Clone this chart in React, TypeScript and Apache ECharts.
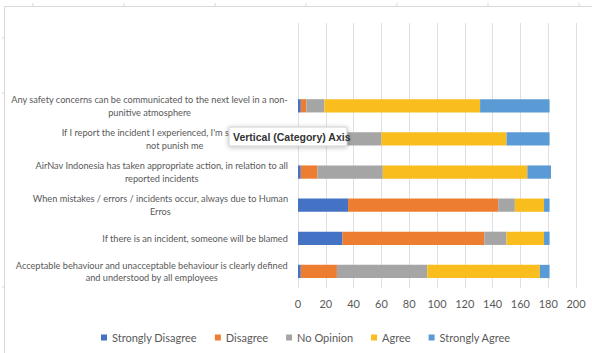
import React, { useEffect, useRef } from "react";
import * as echarts from "echarts";

const categories = [
  "",
  " ",
  "Any safety concerns can be communicated to the next level in a non-\npunitive atmosphere",
  "If I report the incident I experienced, I'm sure AirNav will\nnot punish me",
  "AirNav Indonesia has taken appropriate action, in relation to all\nreported incidents",
  "When mistakes / errors / incidents occur, always due to Human\nErros",
  "If there is an incident, someone will be blamed",
  "Acceptable behaviour and unacceptable behaviour is clearly defined\nand understood by all employees",
];

const seriesNames = ["Strongly Disagree", "Disagree", "No Opinion", "Agree", "Strongly Agree"];
const stronglyDisagree = [null, null, 2, 2, 2, 36, 32, 2];
const disagree = [null, null, 4, 5, 12, 108, 102, 26];
const noOpinion = [null, null, 13, 53, 47, 12, 16, 65];
const agree = [null, null, 112, 90, 104, 21, 27, 81];
const stronglyAgree = [null, null, 50, 31, 17, 4, 4, 7];
const colors = ["#4472C4", "#ED7D31", "#A5A5A5", "#F9BE1E", "#5B9BD5"];

const xMin = 0;
const xMax = 200;
const xInterval = 20;

export default function App() {
  const ref = useRef<HTMLDivElement>(null);
  useEffect(() => {
    if (!ref.current) return;
    const chart = echarts.init(ref.current, null, { renderer: "svg" });
    const values = [stronglyDisagree, disagree, noOpinion, agree, stronglyAgree];
    const font = "Lato, 'Liberation Sans', sans-serif";
    chart.setOption({
      animation: false,
      backgroundColor: "#ffffff",
      grid: { left: 298, right: 16, top: 23, bottom: 65, containLabel: false },
      xAxis: {
        type: "value",
        min: xMin,
        max: xMax,
        interval: xInterval,
        axisLine: { show: false },
        axisTick: { show: false },
        splitLine: { lineStyle: { color: "#e0e0e0", width: 1 } },
        axisLabel: { color: "#595959", fontSize: 11, fontFamily: font, margin: 10 },
      },
      yAxis: {
        type: "category",
        inverse: true,
        data: categories,
        axisLine: { show: false },
        axisTick: { show: false },
        splitLine: { show: false },
        axisLabel: {
          margin: 10,
          align: "right",
          color: "#595959",
          fontSize: 9.2,
          fontFamily: font,
          lineHeight: 12.5,
          formatter: (v: string) =>
            v
              .split("\n")
              .map((l) => (l.trim() ? `{c|${l}}` : ""))
              .join("\n"),
          rich: {
            c: { align: "center", color: "#595959", fontSize: 9.2, fontFamily: font, lineHeight: 12.5 },
          },
        },
      },
      legend: {
        data: seriesNames,
        left: 96,
        top: 327,
        icon: "rect",
        itemWidth: 6,
        itemHeight: 6,
        itemGap: 18,
        textStyle: { color: "#595959", fontSize: 11, fontFamily: font },
      },
      series: seriesNames.map((name, i) => ({
        name,
        type: "bar",
        stack: "total",
        data: values[i],
        barWidth: "40%",
        itemStyle: { color: colors[i] },
      })),
      graphic: [
        { type: "line", shape: { x1: 4, y1: 6.5, x2: 592, y2: 6.5 }, style: { stroke: "#d9d9d9", lineWidth: 1 } },
        { type: "line", shape: { x1: 4.5, y1: 6, x2: 4.5, y2: 353 }, style: { stroke: "#d9d9d9", lineWidth: 1 } },
        ...[33, 124, 215, 306, 397, 488, 579].map((x) => ({
          type: "line",
          shape: { x1: x, y1: 3, x2: x, y2: 6 },
          style: { stroke: "#d9d9d9", lineWidth: 1 },
        })),
        ...[38, 93, 287].map((y) => ({
          type: "line",
          shape: { x1: 2, y1: y, x2: 4, y2: y },
          style: { stroke: "#d9d9d9", lineWidth: 1 },
        })),
        {
          type: "rect",
          shape: { x: 229, y: 127, width: 118, height: 19, r: 1 },
          style: {
            fill: "#ffffff",
            stroke: "#cfcfcf",
            lineWidth: 1,
            shadowBlur: 5,
            shadowColor: "rgba(0,0,0,0.25)",
            shadowOffsetY: 1,
          },
          z: 100,
        },
        {
          type: "text",
          x: 233,
          y: 136.5,
          style: {
            text: "Vertical (Category) Axis",
            fill: "#333333",
            fontSize: 10.5,
            fontWeight: "bold",
            fontFamily: "'Liberation Sans', sans-serif",
            verticalAlign: "middle",
          },
          z: 101,
        },
      ],
    });
    return () => chart.dispose();
  }, []);
  return (
    <div
      ref={ref}
      style={{ position: "fixed", left: 0, top: 0, width: 592, height: 353, background: "#fff" }}
    />
  );
}
